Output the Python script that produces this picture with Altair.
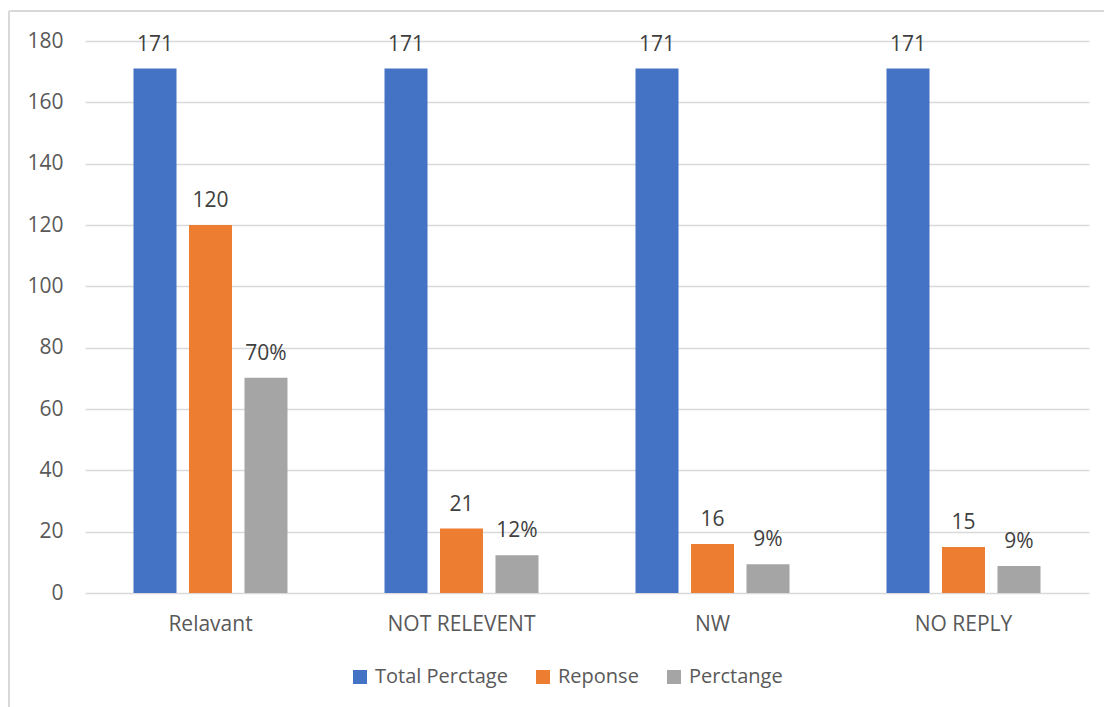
import altair as alt
import pandas as pd

# Grouped bar chart: responses by category
categories = ["Relavant", "NOT RELEVENT", "NW", "NO REPLY"]
series = ["Total Perctage", "Reponse", "Perctange"]
colors = ["#4472C4", "#ED7D31", "#A5A5A5"]

total_values = [171, 171, 171, 171]
response_values = [120, 21, 16, 15]
percent_values = [70.18, 12.28, 9.36, 8.77]

y_ticks = [0, 20, 40, 60, 80, 100, 120, 140, 160, 180]

rows = []
for i, cat in enumerate(categories):
    rows.append({"category": cat, "series": series[0], "value": total_values[i],
                 "label": f"{total_values[i]:.0f}"})
    rows.append({"category": cat, "series": series[1], "value": response_values[i],
                 "label": f"{response_values[i]:.0f}"})
    rows.append({"category": cat, "series": series[2], "value": percent_values[i],
                 "label": f"{percent_values[i]:.0f}%"})
df = pd.DataFrame(rows)

FONT = "Open Sans"
FS = 21
GRID = "#d9d9d9"

x_enc = alt.X(
    "category:N",
    sort=categories,
    scale=alt.Scale(paddingInner=0, paddingOuter=0),
    axis=alt.Axis(title=None, labelAngle=0, labelFontSize=FS, labelColor="#595959",
                  labelFont=FONT, ticks=False, domain=False, labelPadding=20,
                  grid=False),
)
xoff_enc = alt.XOffset(
    "series:N",
    sort=series,
    scale=alt.Scale(paddingInner=0.225, paddingOuter=0.874),
)
y_enc = alt.Y(
    "value:Q",
    scale=alt.Scale(domain=[0, 180], nice=False),
    axis=alt.Axis(title=None, values=y_ticks, labelFontSize=FS, labelColor="#595959",
                  labelFont=FONT, ticks=False, domain=False, labelPadding=22,
                  grid=True, gridColor=GRID, gridWidth=1.5),
)
color_enc = alt.Color(
    "series:N",
    sort=series,
    scale=alt.Scale(domain=series, range=colors),
    legend=alt.Legend(
        title=None, orient="none", direction="horizontal",
        legendX=265, legendY=626,
        symbolType="square", symbolSize=196, symbolStrokeWidth=0,
        labelFontSize=20, labelFont=FONT, labelColor="#595959",
        labelOffset=5, columnPadding=25,
    ),
)

bars = alt.Chart(df).mark_bar().encode(
    x=x_enc, xOffset=xoff_enc, y=y_enc, color=color_enc
)

labels = alt.Chart(df).mark_text(
    dy=-18, baseline="alphabetic", fontSize=FS, font=FONT, color="#404040"
).encode(
    x=alt.X("category:N", sort=categories),
    xOffset=alt.XOffset("series:N", sort=series),
    y=alt.Y("value:Q"),
    text="label:N",
)

# Light frame around the chart
frame_left = alt.Chart(df).mark_rule(color=GRID, strokeWidth=1.5).encode(
    x=alt.value(-76), y=alt.value(-30), y2=alt.value(680)
)
frame_top = alt.Chart(df).mark_rule(color=GRID, strokeWidth=1.5).encode(
    x=alt.value(-76), x2=alt.value(1030), y=alt.value(-30)
)

chart = alt.layer(frame_left, frame_top, bars, labels).properties(
    width=1004,
    height=552,
    background="white",
    autosize=alt.AutoSizeParams(type="none"),
    padding={"left": 85, "top": 41, "right": 15, "bottom": 114},
).configure_view(strokeWidth=0)

chart.save("out.html", embed_options={"renderer": "svg", "actions": False})
